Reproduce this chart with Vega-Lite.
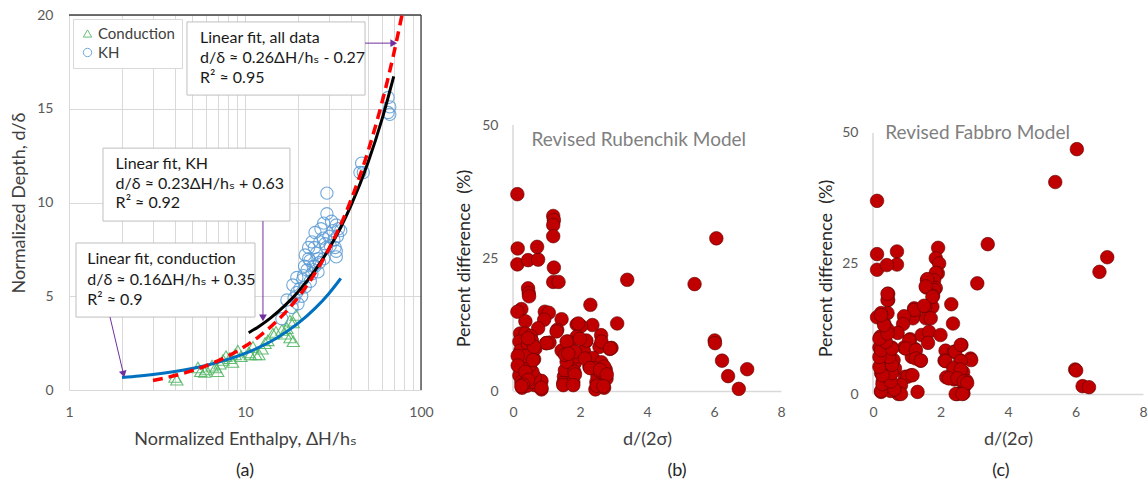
{
  "$schema": "https://vega.github.io/schema/vega-lite/v6.json",
  "autosize": {"type": "none"},
  "padding": {"left": 69, "top": 15, "right": 1079, "bottom": 471},
  "background": "white",
  "config": {
    "font": "Lato, 'DejaVu Sans', sans-serif",
    "view": {"stroke": null},
    "axis": {"labelColor": "#595959", "titleColor": "#404040", "labelFontSize": 14, "titleFontSize": 18, "titleFontWeight": "normal", "ticks": false, "domain": false, "grid": false, "labelFlush": false, "labelOverlap": false},
    "title": {"fontSize": 18, "fontWeight": "normal", "color": "#262626"}
  },
  "resolve": {"scale": {"color": "independent", "shape": "independent"}, "legend": {"color": "independent", "shape": "independent"}},
  "bounds": "flush",
  "spacing": 92,
  "datasets": {
    "ptsA": [
      {"H": 4.0, "d": 0.7, "type": "Conduction"}, {"H": 4.1, "d": 0.55, "type": "Conduction"}, {"H": 5.4, "d": 1.2, "type": "Conduction"}, {"H": 5.9, "d": 0.96, "type": "Conduction"}, {"H": 6.5, "d": 1.3, "type": "Conduction"}, {"H": 6.0, "d": 1.1, "type": "Conduction"}, {"H": 7.5, "d": 1.6, "type": "Conduction"}, {"H": 7.2, "d": 1.4, "type": "Conduction"}, {"H": 8.2, "d": 1.7, "type": "Conduction"}, {"H": 8.5, "d": 1.5, "type": "Conduction"}, {"H": 7.8, "d": 1.8, "type": "Conduction"}, {"H": 9.1, "d": 2.1, "type": "Conduction"}, {"H": 8.8, "d": 1.9, "type": "Conduction"}, {"H": 9.5, "d": 1.8, "type": "Conduction"}, {"H": 11.1, "d": 2.3, "type": "Conduction"}, {"H": 10.5, "d": 2.0, "type": "Conduction"}, {"H": 11.5, "d": 1.9, "type": "Conduction"}, {"H": 12.5, "d": 2.2, "type": "Conduction"}, {"H": 13.0, "d": 2.5, "type": "Conduction"}, {"H": 13.5, "d": 2.65, "type": "Conduction"}, {"H": 14.4, "d": 3.0, "type": "Conduction"}, {"H": 16.2, "d": 3.2, "type": "Conduction"}, {"H": 17.3, "d": 3.3, "type": "Conduction"}, {"H": 18.0, "d": 2.8, "type": "Conduction"}, {"H": 18.8, "d": 3.6, "type": "Conduction"}, {"H": 18.0, "d": 3.7, "type": "Conduction"}, {"H": 6.8, "d": 1.2, "type": "Conduction"}, {"H": 7.0, "d": 1.0, "type": "Conduction"}, {"H": 5.6, "d": 1.0, "type": "Conduction"}, {"H": 12.0, "d": 1.9, "type": "Conduction"}, {"H": 15.0, "d": 3.1, "type": "Conduction"}, {"H": 18.8, "d": 2.6, "type": "Conduction"}, {"H": 19.5, "d": 4.0, "type": "Conduction"}, {"H": 16.9, "d": 3.0, "type": "Conduction"}, {"H": 10.7, "d": 1.9, "type": "Conduction"},
      {"H": 29.2, "d": 10.5, "type": "KH"}, {"H": 29.2, "d": 9.4, "type": "KH"}, {"H": 31.0, "d": 9.0, "type": "KH"}, {"H": 33.0, "d": 8.8, "type": "KH"}, {"H": 31.6, "d": 8.5, "type": "KH"}, {"H": 25.0, "d": 8.4, "type": "KH"}, {"H": 27.8, "d": 8.1, "type": "KH"}, {"H": 26.6, "d": 7.9, "type": "KH"}, {"H": 33.0, "d": 7.4, "type": "KH"}, {"H": 33.0, "d": 7.1, "type": "KH"}, {"H": 23.4, "d": 6.9, "type": "KH"}, {"H": 24.4, "d": 6.6, "type": "KH"}, {"H": 22.5, "d": 6.4, "type": "KH"}, {"H": 26.0, "d": 6.3, "type": "KH"}, {"H": 21.3, "d": 5.9, "type": "KH"}, {"H": 18.7, "d": 5.6, "type": "KH"}, {"H": 19.7, "d": 5.2, "type": "KH"}, {"H": 45.0, "d": 11.6, "type": "KH"}, {"H": 46.0, "d": 12.1, "type": "KH"}, {"H": 47.0, "d": 11.6, "type": "KH"}, {"H": 65.0, "d": 15.6, "type": "KH"}, {"H": 66.5, "d": 15.1, "type": "KH"}, {"H": 65.0, "d": 14.8, "type": "KH"}, {"H": 66.5, "d": 14.7, "type": "KH"}, {"H": 17.3, "d": 4.8, "type": "KH"}, {"H": 16.2, "d": 3.8, "type": "KH"}, {"H": 19.7, "d": 6.0, "type": "KH"}, {"H": 22.0, "d": 7.2, "type": "KH"}, {"H": 23.0, "d": 7.6, "type": "KH"}, {"H": 24.0, "d": 7.9, "type": "KH"}, {"H": 25.5, "d": 7.3, "type": "KH"}, {"H": 27.0, "d": 8.6, "type": "KH"}, {"H": 28.0, "d": 8.9, "type": "KH"}, {"H": 30.0, "d": 8.2, "type": "KH"}, {"H": 32.0, "d": 8.0, "type": "KH"}, {"H": 34.0, "d": 8.6, "type": "KH"}, {"H": 35.0, "d": 8.5, "type": "KH"}, {"H": 33.5, "d": 8.2, "type": "KH"}, {"H": 29.0, "d": 7.6, "type": "KH"}, {"H": 28.0, "d": 7.0, "type": "KH"}, {"H": 26.0, "d": 7.0, "type": "KH"}, {"H": 25.0, "d": 6.6, "type": "KH"}, {"H": 24.0, "d": 6.2, "type": "KH"}, {"H": 23.5, "d": 5.8, "type": "KH"}, {"H": 22.0, "d": 5.5, "type": "KH"}, {"H": 21.0, "d": 5.0, "type": "KH"}, {"H": 20.0, "d": 4.6, "type": "KH"}, {"H": 18.5, "d": 4.4, "type": "KH"}, {"H": 19.0, "d": 4.9, "type": "KH"}, {"H": 20.5, "d": 5.4, "type": "KH"}, {"H": 21.5, "d": 6.1, "type": "KH"}, {"H": 26.5, "d": 6.8, "type": "KH"}, {"H": 28.5, "d": 7.8, "type": "KH"}, {"H": 30.5, "d": 7.7, "type": "KH"}, {"H": 32.5, "d": 7.6, "type": "KH"}, {"H": 23.0, "d": 7.0, "type": "KH"}, {"H": 24.8, "d": 7.6, "type": "KH"}, {"H": 21.8, "d": 6.6, "type": "KH"}
    ],
    "fitCond": [{"H": 2, "d": 0.67}, {"H": 2.5, "d": 0.75}, {"H": 3, "d": 0.83}, {"H": 4, "d": 0.99}, {"H": 5, "d": 1.15}, {"H": 6, "d": 1.31}, {"H": 8, "d": 1.63}, {"H": 10, "d": 1.95}, {"H": 12, "d": 2.27}, {"H": 15, "d": 2.75}, {"H": 20, "d": 3.55}, {"H": 25, "d": 4.35}, {"H": 30, "d": 5.15}, {"H": 35, "d": 5.95}],
    "fitKH": [{"H": 10.5, "d": 3.05}, {"H": 12, "d": 3.39}, {"H": 14, "d": 3.85}, {"H": 17, "d": 4.54}, {"H": 20, "d": 5.23}, {"H": 25, "d": 6.38}, {"H": 30, "d": 7.53}, {"H": 35, "d": 8.68}, {"H": 40, "d": 9.83}, {"H": 50, "d": 12.13}, {"H": 60, "d": 14.43}, {"H": 70, "d": 16.73}],
    "fitAll": [{"H": 3, "d": 0.51}, {"H": 4, "d": 0.77}, {"H": 5, "d": 1.03}, {"H": 6, "d": 1.29}, {"H": 8, "d": 1.81}, {"H": 10, "d": 2.33}, {"H": 12, "d": 2.85}, {"H": 15, "d": 3.63}, {"H": 20, "d": 4.93}, {"H": 25, "d": 6.23}, {"H": 30, "d": 7.53}, {"H": 40, "d": 10.13}, {"H": 50, "d": 12.73}, {"H": 60, "d": 15.33}, {"H": 70, "d": 17.93}, {"H": 78, "d": 20.01}],
    "bordersA": [{"H": 1, "H2": 100, "d": 20, "d2": 20}, {"H": 100, "H2": 100, "d": 0, "d2": 20}],
    "boxesA": [{"H": 4.68, "H2": 48.1, "d": 15.73, "d2": 19.63}, {"H": 1.56, "H2": 18.0, "d": 9.01, "d2": 12.9}, {"H": 1.096, "H2": 11.4, "d": 3.89, "d2": 7.84}],
    "notesA": [
      {"H": 5.55, "d": 18.77, "label": "Linear fit, all data"},
      {"H": 5.55, "d": 17.71, "label": "d/δ ≈ 0.26ΔH/hₛ - 0.27"},
      {"H": 5.55, "d": 16.64, "label": "R² ≈ 0.95"},
      {"H": 1.84, "d": 12.05, "label": "Linear fit, KH"},
      {"H": 1.84, "d": 10.99, "label": "d/δ ≈ 0.23ΔH/hₛ + 0.63"},
      {"H": 1.84, "d": 9.97, "label": "R² ≈ 0.92"},
      {"H": 1.27, "d": 6.99, "label": "Linear fit, conduction"},
      {"H": 1.27, "d": 5.87, "label": "d/δ ≈ 0.16ΔH/hₛ + 0.35"},
      {"H": 1.27, "d": 4.8, "label": "R² ≈ 0.9"}
    ],
    "arrowsA": [{"H": 48.1, "H2": 70, "d": 18.5, "d2": 18.5}, {"H": 12.65, "H2": 12.65, "d": 9.01, "d2": 3.85}, {"H": 1.71, "H2": 2.04, "d": 3.89, "d2": 0.85}],
    "headsA": [{"name": "all", "H": 70, "d": 18.5}, {"name": "kh", "H": 12.65, "d": 3.85}, {"name": "cond", "H": 2.04, "d": 0.85}],
    "ptsB": [
      {"x": 0.13, "y": 37.0}, {"x": 0.14, "y": 26.8}, {"x": 0.13, "y": 23.8}, {"x": 0.45, "y": 24.6}, {"x": 0.75, "y": 24.7}, {"x": 0.72, "y": 27.1}, {"x": 1.2, "y": 32.9}, {"x": 1.22, "y": 32.1}, {"x": 1.2, "y": 31.2}, {"x": 1.2, "y": 29.1}, {"x": 1.22, "y": 23.2}, {"x": 1.2, "y": 20.5}, {"x": 1.36, "y": 20.5}, {"x": 3.41, "y": 20.9}, {"x": 5.42, "y": 20.1}, {"x": 6.07, "y": 28.7}, {"x": 6.02, "y": 9.5}, {"x": 6.03, "y": 9.0}, {"x": 6.24, "y": 5.7}, {"x": 6.42, "y": 2.8}, {"x": 6.74, "y": 0.4}, {"x": 6.99, "y": 4.1}, {"x": 3.11, "y": 12.7}, {"x": 2.31, "y": 16.2}, {"x": 2.37, "y": 12.4}, {"x": 0.45, "y": 19.3}, {"x": 0.47, "y": 18.4}, {"x": 0.48, "y": 17.8}, {"x": 0.25, "y": 15.4}, {"x": 0.13, "y": 14.9}, {"x": 0.37, "y": 13.1}, {"x": 0.95, "y": 14.9}, {"x": 1.07, "y": 14.7}, {"x": 0.93, "y": 13.4}, {"x": 1.45, "y": 13.5}, {"x": 1.32, "y": 11.5}, {"x": 0.75, "y": 11.8}, {"x": 0.99, "y": 9.0}, {"x": 1.09, "y": 9.1}, {"x": 1.9, "y": 12.5}, {"x": 2.03, "y": 12.2}, {"x": 1.9, "y": 10.2}, {"x": 2.18, "y": 9.3}, {"x": 2.12, "y": 7.5}, {"x": 2.63, "y": 10.5}, {"x": 2.58, "y": 8.3}, {"x": 2.89, "y": 7.9}, {"x": 2.94, "y": 8.1}, {"x": 1.45, "y": 7.6}, {"x": 1.64, "y": 9.3}, {"x": 1.69, "y": 8.3}, {"x": 1.72, "y": 5.2}, {"x": 1.84, "y": 5.2}, {"x": 1.87, "y": 6.5}, {"x": 1.52, "y": 2.7}, {"x": 1.55, "y": 3.9}, {"x": 1.5, "y": 1.5}, {"x": 1.8, "y": 1.7}, {"x": 1.83, "y": 3.6}, {"x": 2.28, "y": 4.6}, {"x": 2.39, "y": 6.2}, {"x": 2.64, "y": 5.4}, {"x": 2.49, "y": 1.7}, {"x": 2.52, "y": 2.8}, {"x": 2.74, "y": 3.3}, {"x": 2.79, "y": 2.3}, {"x": 2.77, "y": 4.0}, {"x": 2.72, "y": 4.6}, {"x": 2.44, "y": 4.3}, {"x": 2.59, "y": 3.7}, {"x": 2.72, "y": 0.6}, {"x": 2.46, "y": 0.3}, {"x": 0.85, "y": 0.3}, {"x": 0.85, "y": 1.9}, {"x": 0.65, "y": 1.1},
      {"x": 0.21, "y": 10.8}, {"x": 0.37, "y": 10.8}, {"x": 0.53, "y": 10.3}, {"x": 0.19, "y": 9.3}, {"x": 0.22, "y": 7.6}, {"x": 0.32, "y": 5.9}, {"x": 0.25, "y": 5.0}, {"x": 0.22, "y": 4.0}, {"x": 0.19, "y": 2.9}, {"x": 0.25, "y": 1.7}, {"x": 0.27, "y": 0.6}, {"x": 0.42, "y": 1.0}, {"x": 0.6, "y": 1.7}, {"x": 0.65, "y": 2.6}, {"x": 0.58, "y": 3.6}, {"x": 0.5, "y": 4.8}, {"x": 0.63, "y": 6.0}, {"x": 0.55, "y": 7.2}, {"x": 0.67, "y": 8.0}, {"x": 0.45, "y": 8.8}, {"x": 0.57, "y": 9.4}, {"x": 0.39, "y": 6.6}, {"x": 0.14, "y": 6.6}, {"x": 0.14, "y": 4.8}, {"x": 0.37, "y": 3.6}, {"x": 0.45, "y": 2.1}, {"x": 0.3, "y": 1.2},
      {"x": 1.3, "y": 11.2}, {"x": 1.0, "y": 9.0}, {"x": 1.6, "y": 9.3}, {"x": 2.19, "y": 9.5}, {"x": 2.64, "y": 9.3}, {"x": 2.9, "y": 8.0}, {"x": 1.85, "y": 7.4}, {"x": 2.15, "y": 6.1}, {"x": 1.6, "y": 5.5}, {"x": 2.3, "y": 4.3}, {"x": 2.6, "y": 4.0}, {"x": 2.8, "y": 3.1}, {"x": 1.85, "y": 3.1}, {"x": 1.5, "y": 1.1}, {"x": 1.8, "y": 1.1}, {"x": 2.5, "y": 1.0}, {"x": 2.7, "y": 0.9}, {"x": 0.25, "y": 0.9}, {"x": 0.85, "y": 0.6}, {"x": 0.63, "y": 8.3}, {"x": 0.45, "y": 9.9}, {"x": 0.6, "y": 5.8}, {"x": 1.95, "y": 12.7}, {"x": 1.55, "y": 6.8}, {"x": 1.65, "y": 7.0}, {"x": 2.0, "y": 9.8}
    ],
    "ptsC": [
      {"x": 6.04, "y": 46.9}, {"x": 5.4, "y": 40.6}, {"x": 0.12, "y": 37.0}, {"x": 3.4, "y": 28.7}, {"x": 6.94, "y": 26.2}, {"x": 6.71, "y": 23.4}, {"x": 3.09, "y": 21.2}, {"x": 0.12, "y": 26.8}, {"x": 0.12, "y": 23.8}, {"x": 0.71, "y": 27.3}, {"x": 0.71, "y": 24.8}, {"x": 0.41, "y": 24.7}, {"x": 0.45, "y": 19.2}, {"x": 0.45, "y": 18.0}, {"x": 1.93, "y": 28.0}, {"x": 1.86, "y": 26.0}, {"x": 1.96, "y": 25.0}, {"x": 1.92, "y": 23.1}, {"x": 1.86, "y": 23.2}, {"x": 1.81, "y": 21.8}, {"x": 1.6, "y": 21.8}, {"x": 1.58, "y": 20.4}, {"x": 1.86, "y": 20.3}, {"x": 1.81, "y": 19.9}, {"x": 1.78, "y": 18.8}, {"x": 1.76, "y": 16.7}, {"x": 1.55, "y": 16.7}, {"x": 1.57, "y": 14.5}, {"x": 1.71, "y": 14.5}, {"x": 1.22, "y": 16.4}, {"x": 1.22, "y": 15.5}, {"x": 1.18, "y": 14.5}, {"x": 1.22, "y": 16.1}, {"x": 0.92, "y": 14.9}, {"x": 0.89, "y": 13.4}, {"x": 0.73, "y": 11.7}, {"x": 0.43, "y": 15.5}, {"x": 0.24, "y": 15.5}, {"x": 0.12, "y": 14.7}, {"x": 0.34, "y": 13.4}, {"x": 0.43, "y": 12.4}, {"x": 0.22, "y": 11.0}, {"x": 0.34, "y": 10.5}, {"x": 1.1, "y": 10.5}, {"x": 1.44, "y": 11.3}, {"x": 1.66, "y": 11.9}, {"x": 1.63, "y": 9.8}, {"x": 2.0, "y": 11.3}, {"x": 2.32, "y": 17.2}, {"x": 2.37, "y": 13.5}, {"x": 0.92, "y": 8.9}, {"x": 1.25, "y": 8.6}, {"x": 1.15, "y": 7.1}, {"x": 1.41, "y": 6.4}, {"x": 0.95, "y": 3.3}, {"x": 1.13, "y": 3.6}, {"x": 1.32, "y": 0.4}, {"x": 0.75, "y": 0.0}, {"x": 0.77, "y": 1.6}, {"x": 2.15, "y": 8.3}, {"x": 2.4, "y": 8.1}, {"x": 2.12, "y": 6.4}, {"x": 2.62, "y": 9.4}, {"x": 2.59, "y": 6.4}, {"x": 2.89, "y": 6.8}, {"x": 2.91, "y": 6.5}, {"x": 2.4, "y": 4.7}, {"x": 2.17, "y": 3.2}, {"x": 2.41, "y": 2.8}, {"x": 2.67, "y": 4.2}, {"x": 2.77, "y": 2.5}, {"x": 2.71, "y": 1.5}, {"x": 2.5, "y": 0.0}, {"x": 2.68, "y": 0.1}, {"x": 5.99, "y": 4.7}, {"x": 6.02, "y": 4.5}, {"x": 6.21, "y": 1.5}, {"x": 6.4, "y": 1.3}, {"x": 0.24, "y": 7.5}, {"x": 0.34, "y": 5.2}, {"x": 0.24, "y": 4.0}, {"x": 0.29, "y": 2.5}, {"x": 0.24, "y": 0.4}, {"x": 0.52, "y": 2.0}, {"x": 0.65, "y": 4.9}, {"x": 0.61, "y": 6.5}, {"x": 0.47, "y": 7.7}, {"x": 0.56, "y": 8.9}, {"x": 0.19, "y": 8.9}, {"x": 0.24, "y": 5.5}, {"x": 0.52, "y": 0.6},
      {"x": 1.61, "y": 22.0}, {"x": 1.56, "y": 20.6}, {"x": 1.76, "y": 18.6}, {"x": 1.51, "y": 16.9}, {"x": 1.07, "y": 10.3}, {"x": 0.97, "y": 8.7}, {"x": 1.27, "y": 8.4}, {"x": 1.27, "y": 6.8}, {"x": 1.42, "y": 6.4}, {"x": 2.44, "y": 8.1}, {"x": 2.6, "y": 9.4}, {"x": 2.15, "y": 6.3}, {"x": 2.6, "y": 6.3}, {"x": 2.38, "y": 4.9}, {"x": 2.6, "y": 4.7}, {"x": 2.25, "y": 3.0}, {"x": 2.5, "y": 3.0}, {"x": 2.69, "y": 2.4}, {"x": 2.79, "y": 2.1}, {"x": 2.45, "y": 0.0}, {"x": 2.65, "y": 0.0}, {"x": 1.02, "y": 3.3}, {"x": 1.17, "y": 3.6}, {"x": 0.83, "y": 1.7}, {"x": 0.83, "y": 0.0}, {"x": 0.63, "y": 0.9}, {"x": 0.24, "y": 0.6}, {"x": 0.28, "y": 1.9}, {"x": 0.53, "y": 2.4}, {"x": 0.56, "y": 4.0}, {"x": 0.28, "y": 3.6}, {"x": 0.19, "y": 5.2}, {"x": 0.56, "y": 5.6}, {"x": 0.48, "y": 7.1}, {"x": 0.19, "y": 7.1}, {"x": 0.24, "y": 8.4}, {"x": 0.56, "y": 8.7}, {"x": 0.38, "y": 10.0}, {"x": 0.19, "y": 10.6}, {"x": 0.43, "y": 11.6}, {"x": 0.33, "y": 13.2}, {"x": 0.24, "y": 15.1}, {"x": 0.43, "y": 18.0}, {"x": 0.43, "y": 19.2}
    ],
    "axisB": [{"x": 0, "y": 0, "y2": 50}],
    "axisC": [{"x": 0, "y": 0, "y2": 50}],
    "titleB": [{"x": 0.55, "y": 47.2, "label": "Revised Rubenchik Model"}],
    "titleC": [{"x": 0.36, "y": 50.0, "label": "Revised Fabbro Model"}]
  },
  "hconcat": [
    {
      "width": 352,
      "height": 375,
      "title": {"text": "(a)", "orient": "bottom", "offset": 14},
      "encoding": {
        "x": {"field": "H", "type": "quantitative", "scale": {"type": "log", "domain": [1, 100], "nice": false},
          "axis": {"values": [1, 2, 3, 4, 5, 6, 7, 8, 9, 10, 20, 30, 40, 50, 60, 70, 80, 90, 100], "labelExpr": "datum.value == 1 || datum.value == 10 || datum.value == 100 ? datum.label : ''", "format": "~g", "grid": true, "gridColor": "#d9d9d9", "labelPadding": 15, "titlePadding": 11, "title": "Normalized Enthalpy, ΔH/hₛ"}},
        "y": {"field": "d", "type": "quantitative", "scale": {"domain": [0, 20], "nice": false},
          "axis": {"values": [0, 5, 10, 15, 20], "grid": true, "gridColor": "#d9d9d9", "labelPadding": 16, "titlePadding": 8, "title": "Normalized Depth, d/δ"}}
      },
      "layer": [
        {"data": {"name": "bordersA"}, "mark": {"type": "rule", "color": "#404040", "strokeWidth": 1.3}, "encoding": {"x2": {"field": "H2"}, "y2": {"field": "d2"}}},
        {"data": {"name": "ptsA"}, "mark": {"type": "point", "filled": false, "size": 150, "strokeWidth": 1.1, "opacity": 0.85},
          "encoding": {
            "color": {"field": "type", "type": "nominal", "scale": {"domain": ["Conduction", "KH"], "range": ["#4db560", "#5b9bd5"]},
              "legend": {"title": null, "orient": "top-left", "offset": 4, "padding": 7, "strokeColor": "#d9d9d9", "fillColor": "white", "labelFontSize": 15, "labelColor": "#404040", "symbolSize": 70, "symbolStrokeWidth": 1, "rowPadding": 3, "labelOffset": 3}},
            "shape": {"field": "type", "type": "nominal", "scale": {"domain": ["Conduction", "KH"], "range": ["triangle-up", "circle"]},
              "legend": {"title": null, "orient": "top-left", "offset": 4, "padding": 7, "strokeColor": "#d9d9d9", "fillColor": "white", "labelFontSize": 15, "labelColor": "#404040", "symbolSize": 70, "symbolStrokeWidth": 1, "rowPadding": 3, "labelOffset": 3}}
          }},
        {"data": {"name": "fitCond"}, "mark": {"type": "line", "color": "#0070c0", "strokeWidth": 3, "interpolate": "monotone"}},
        {"data": {"name": "fitKH"}, "mark": {"type": "line", "color": "#000000", "strokeWidth": 3, "interpolate": "monotone"}},
        {"data": {"name": "fitAll"}, "mark": {"type": "line", "color": "#ff0000", "strokeWidth": 3.5, "strokeDash": [10, 6], "interpolate": "monotone", "clip": true}},
        {"data": {"name": "boxesA"}, "mark": {"type": "rect", "fill": "white", "stroke": "#bfbfbf", "strokeWidth": 1}, "encoding": {"x2": {"field": "H2"}, "y2": {"field": "d2"}}},
        {"data": {"name": "notesA"}, "mark": {"type": "text", "align": "left", "baseline": "middle", "fontSize": 16, "color": "#1a1a1a"}, "encoding": {"text": {"field": "label"}}},
        {"data": {"name": "arrowsA"}, "mark": {"type": "rule", "color": "#7030a0", "strokeWidth": 1}, "encoding": {"x2": {"field": "H2"}, "y2": {"field": "d2"}}},
        {"data": {"name": "headsA"}, "transform": [{"filter": "datum.name === 'all'"}], "mark": {"type": "point", "shape": "triangle-up", "angle": 90, "filled": true, "color": "#7030a0", "size": 60, "opacity": 1}},
        {"data": {"name": "headsA"}, "transform": [{"filter": "datum.name === 'kh'"}], "mark": {"type": "point", "shape": "triangle-up", "angle": 180, "filled": true, "color": "#7030a0", "size": 60, "opacity": 1}},
        {"data": {"name": "headsA"}, "transform": [{"filter": "datum.name === 'cond'"}], "mark": {"type": "point", "shape": "triangle-up", "angle": 167, "filled": true, "color": "#7030a0", "size": 60, "opacity": 1}}
      ]
    },
    {
      "width": 268,
      "height": 376,
      "title": {"text": "(b)", "orient": "bottom", "offset": 14, "dx": 30},
      "encoding": {
        "x": {"field": "x", "type": "quantitative", "scale": {"domain": [0, 8], "nice": false},
          "axis": {"values": [0, 2, 4, 6, 8], "domain": true, "domainColor": "#d9d9d9", "domainWidth": 1.5, "labelPadding": 14, "titlePadding": 11, "title": "d/(2σ)"}},
        "y": {"field": "y", "type": "quantitative", "scale": {"domain": [0, 70.68], "nice": false},
          "axis": {"values": [0, 25, 50], "labelPadding": 15, "titlePadding": 8, "title": "Percent difference\u00a0 (%)", "titleY": 243, "titleColor": "#262626"}}
      },
      "layer": [
        {"data": {"name": "axisB"}, "mark": {"type": "rule", "color": "#d9d9d9", "strokeWidth": 1.5}, "encoding": {"y2": {"field": "y2"}}},
        {"data": {"name": "ptsB"}, "mark": {"type": "circle", "size": 185, "fill": "#c00000", "stroke": "#5a0000", "strokeWidth": 0.6, "opacity": 1}},
        {"data": {"name": "titleB"}, "mark": {"type": "text", "align": "left", "baseline": "middle", "fontSize": 19, "color": "#7f7f7f"}, "encoding": {"text": {"field": "label"}}}
      ]
    },
    {
      "width": 270,
      "height": 379,
      "title": {"text": "(c)", "orient": "bottom", "offset": 14, "dx": -7},
      "encoding": {
        "x": {"field": "x", "type": "quantitative", "scale": {"domain": [0, 8], "nice": false},
          "axis": {"values": [0, 2, 4, 6, 8], "domain": true, "domainColor": "#d9d9d9", "domainWidth": 1.5, "labelPadding": 11, "titlePadding": 11, "title": "d/(2σ)"}},
        "y": {"field": "y", "type": "quantitative", "scale": {"domain": [0, 72.6], "nice": false},
          "axis": {"values": [0, 25, 50], "labelPadding": 15, "titlePadding": 6, "title": "Percent difference\u00a0 (%)", "titleY": 253, "titleColor": "#262626"}}
      },
      "layer": [
        {"data": {"name": "axisC"}, "mark": {"type": "rule", "color": "#d9d9d9", "strokeWidth": 1.5}, "encoding": {"y2": {"field": "y2"}}},
        {"data": {"name": "ptsC"}, "mark": {"type": "circle", "size": 185, "fill": "#c00000", "stroke": "#5a0000", "strokeWidth": 0.6, "opacity": 1}},
        {"data": {"name": "titleC"}, "mark": {"type": "text", "align": "left", "baseline": "middle", "fontSize": 19, "color": "#7f7f7f"}, "encoding": {"text": {"field": "label"}}}
      ]
    }
  ]
}
